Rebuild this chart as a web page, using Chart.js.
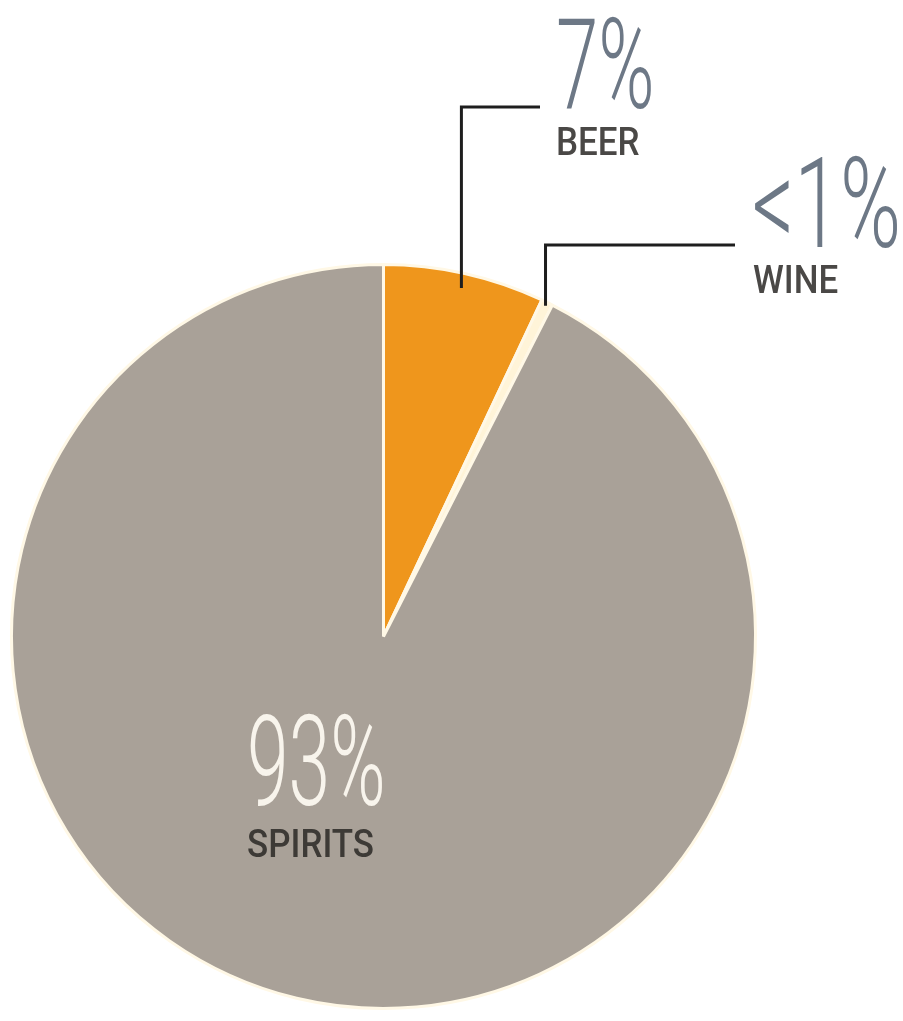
<!DOCTYPE html>
<html lang="en">
<head>
    <meta charset="UTF-8">
    <title>Alcohol share</title>
    <script src="https://cdn.jsdelivr.net/npm/chart.js"></script>
    <style>
        html, body {
            margin: 0;
            padding: 0;
            background: #ffffff;
        }

        .chart-box {
            width: 903px;
            height: 1021px;
            position: relative;
        }
    </style>
</head>
<body>
    <div class="chart-box">
        <canvas id="shareChart"></canvas>
    </div>

    <script>
        // Data
        const categories = ['BEER', 'WINE', 'SPIRITS'];
        const shares = [7, 0.5, 92.5];
        const shareLabels = ['7%', '<1%', '93%'];
        const sliceColors = ['#ef961c', '#fff4d8', '#a9a198'];

        // draws horizontally squeezed text, like the condensed face of the original
        function squeezedText(ctx, text, x, y, font, color, sx) {
            ctx.save();
            ctx.font = font;
            ctx.fillStyle = color;
            ctx.textBaseline = 'alphabetic';
            ctx.textAlign = 'left';
            ctx.translate(x, y);
            ctx.scale(sx, 1);
            ctx.fillText(text, 0, 0);
            ctx.restore();
        }

        function pointOnArc(arc, frac) {
            const mid = (arc.startAngle + arc.endAngle) / 2;
            const r = arc.outerRadius * frac;
            return { x: arc.x + Math.cos(mid) * r, y: arc.y + Math.sin(mid) * r };
        }

        const bigFont = '300 127px Roboto';
        const smallFont = '500 38px Roboto';
        const numColor = '#6d7886';
        const nameColor = '#4a4846';

        const calloutPlugin = {
            id: 'callouts',
            afterDraw(chart) {
                const ctx = chart.ctx;
                const arcs = chart.getDatasetMeta(0).data;

                // beer callout
                const beer = pointOnArc(arcs[0], 0.96);
                ctx.save();
                ctx.strokeStyle = '#1e1e1e';
                ctx.lineWidth = 3;
                ctx.beginPath();
                ctx.moveTo(beer.x, beer.y);
                ctx.lineTo(beer.x, 107);
                ctx.lineTo(540, 107);
                ctx.stroke();

                // wine callout
                const wine = pointOnArc(arcs[1], 0.99);
                ctx.beginPath();
                ctx.moveTo(wine.x, wine.y);
                ctx.lineTo(wine.x, 245);
                ctx.lineTo(735, 245);
                ctx.stroke();
                ctx.restore();

                squeezedText(ctx, shareLabels[0], 556, 108, bigFont, numColor, 0.6);
                squeezedText(ctx, categories[0], 556, 155, smallFont, nameColor, 0.92);

                squeezedText(ctx, shareLabels[1], 752, 247, bigFont, numColor, 0.65);
                squeezedText(ctx, categories[1], 753, 293, smallFont, nameColor, 0.92);

                squeezedText(ctx, shareLabels[2], 247, 805, bigFont, '#f8f4ec', 0.59);
                squeezedText(ctx, categories[2], 247, 857, smallFont, '#3d3a36', 0.92);
            }
        };

        new Chart(document.getElementById('shareChart'), {
            type: 'pie',
            data: {
                labels: categories,
                datasets: [{
                    data: shares,
                    backgroundColor: sliceColors,
                    borderColor: '#fff8e6',
                    borderWidth: 3
                }]
            },
            options: {
                responsive: true,
                maintainAspectRatio: false,
                animation: false,
                layout: {
                    padding: { left: 10, top: 261, right: 146, bottom: 9 }
                },
                plugins: {
                    legend: { display: false },
                    tooltip: { enabled: false }
                }
            },
            plugins: [calloutPlugin]
        });
    </script>
</body>
</html>
